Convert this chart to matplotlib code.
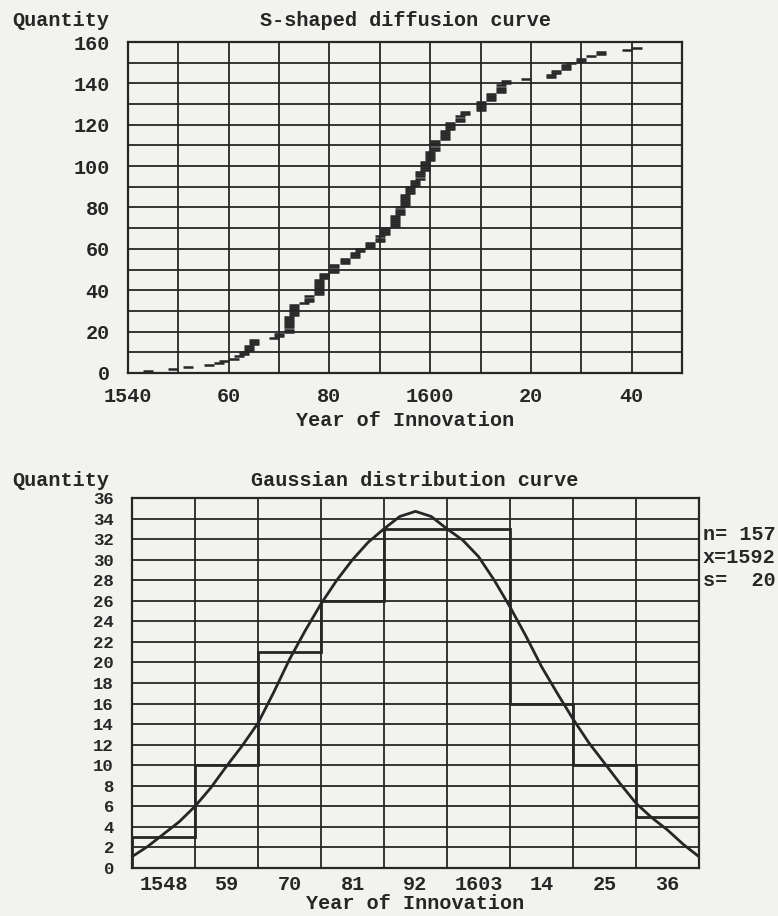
# coding: utf-8
import numpy as np
import matplotlib
matplotlib.use('Agg')
import matplotlib.pyplot as plt

# --- S-curve: number of innovations per year ---
years = [1544, 1549, 1552, 1556, 1558, 1559, 1561, 1562, 1563, 1564,
         1565, 1569, 1570, 1572, 1573, 1575,
         1576, 1578, 1579, 1581, 1583, 1585, 1586,
         1588, 1590, 1591, 1593, 1594, 1595, 1596, 1597,
         1598, 1599, 1600, 1601, 1603, 1604, 1606, 1607,
         1610, 1612, 1614, 1615, 1619,
         1624, 1625, 1627, 1628, 1630,
         1632, 1634, 1639, 1641]
per_year = [1, 1, 1, 1, 1, 1, 1, 1, 2, 3,
            3, 1, 2, 8, 6, 1,
            3, 8, 3, 4, 3, 3, 2,
            3, 3, 4, 6, 4, 6, 4, 3,
            4, 5, 5, 5, 5, 4, 3, 2,
            5, 4, 4, 2, 1,
            2, 2, 3, 1, 2,
            1, 2, 1, 1]

# --- Gaussian chart: 11-year classes ---
bin_centers = [1548, 1559, 1570, 1581, 1592, 1603, 1614, 1625, 1636]
bin_labels = ['1548', '59', '70', '81', '92', '1603', '14', '25', '36']
bin_counts = [3, 10, 21, 26, 33, 33, 16, 10, 5]
curve_vals = [1.1, 2.1, 3.3, 4.5, 6.0, 7.8, 9.9, 11.9, 14.1, 17.1,
              20.3, 23.1, 25.7, 28.0, 30.0, 31.7, 33.0, 34.2, 34.7,
              34.2, 33.0, 31.9, 30.3, 28.0, 25.4, 22.6, 19.6, 17.0,
              14.5, 12.2, 10.2, 8.2, 6.3, 4.9, 3.7, 2.3, 1.1]
stats_text = 'n= 157\nx=1592\ns=  20'

ink = '#262626'
paper = '#f2f2ef'
W, H = 778, 916

plt.rcParams['font.family'] = ['Liberation Mono', 'DejaVu Sans Mono']
plt.rcParams['font.weight'] = 'bold'

fig = plt.figure(figsize=(W / 100, H / 100), dpi=100, facecolor=paper)


def px_axes(l, t, r, b):
    return fig.add_axes([l / W, 1 - b / H, (r - l) / W, (b - t) / H])


def style(ax):
    ax.set_facecolor(paper)
    for s in ax.spines.values():
        s.set_color(ink)
        s.set_linewidth(1.6)
    ax.grid(which='both', color=ink, linewidth=1.3)
    ax.set_axisbelow(True)
    ax.tick_params(which='both', length=0, colors=ink)


# ---------- top: S-shaped diffusion curve ----------
ax1 = px_axes(128, 42, 682, 373)
style(ax1)
x_pts = np.repeat(years, per_year)
q_pts = np.arange(1, len(x_pts) + 1)
ax1.plot(x_pts, q_pts, linestyle='none', marker='_', markersize=7.5,
         markeredgewidth=1.8, color=ink, zorder=3)
ax1.set_xlim(1540, 1650)
ax1.set_ylim(0, 160)
ax1.set_xticks([1540, 1560, 1580, 1600, 1620, 1640])
ax1.set_xticklabels(['1540', '60', '80', '1600', '20', '40'], fontsize=14.5)
ax1.set_xticks(np.arange(1540, 1651, 10), minor=True)
ax1.set_yticks(np.arange(0, 161, 20))
ax1.set_yticklabels([str(v) for v in range(0, 161, 20)], fontsize=14.5)
ax1.set_yticks(np.arange(0, 161, 10), minor=True)
ax1.tick_params(axis='x', pad=10)
ax1.tick_params(axis='y', pad=13)
ax1.set_xlabel('Year of Innovation', fontsize=14.5, fontweight='bold',
               labelpad=4, color=ink)

fig.text(12 / W, 1 - 20 / H, 'Quantity', fontsize=14.5, fontweight='bold',
         color=ink, ha='left', va='center')
fig.text(405 / W, 1 - 20 / H, 'S-shaped diffusion curve', fontsize=14.5,
         fontweight='bold', color=ink, ha='center', va='center')

# ---------- bottom: Gaussian distribution curve ----------
ax2 = px_axes(132, 498, 699, 868)
style(ax2)
edges = np.append(np.array(bin_centers) - 5.5, bin_centers[-1] + 5.5)
ax2.stairs(bin_counts, edges, baseline=0, color=ink, linewidth=2.0, zorder=3)
curve_x = np.linspace(edges[0], edges[-1], len(curve_vals))
ax2.plot(curve_x, curve_vals, color=ink, linewidth=2.0, zorder=4)
ax2.set_xlim(edges[0], edges[-1])
ax2.set_ylim(0, 36)
ax2.set_xticks(bin_centers)
ax2.set_xticklabels(bin_labels, fontsize=14.5)
ax2.set_xticks(edges, minor=True)
ax2.grid(which='major', axis='x', visible=False)
ax2.set_yticks(np.arange(0, 37, 2))
ax2.set_yticklabels([str(v) for v in range(0, 37, 2)], fontsize=12.5)
ax2.tick_params(axis='x', pad=5)
ax2.tick_params(axis='y', pad=13)
ax2.set_xlabel('Year of Innovation', fontsize=14.5, fontweight='bold',
               labelpad=0, color=ink)

fig.text(12 / W, 1 - 481 / H, 'Quantity', fontsize=14.5, fontweight='bold',
         color=ink, ha='left', va='center')
fig.text(415 / W, 1 - 481 / H, 'Gaussian distribution curve', fontsize=14.5,
         fontweight='bold', color=ink, ha='center', va='center')
fig.text(703 / W, 1 - 525 / H, stats_text, fontsize=14.5, fontweight='bold',
         color=ink, ha='left', va='top', linespacing=1.25)

fig.savefig('out.png', dpi=100, facecolor=paper)
